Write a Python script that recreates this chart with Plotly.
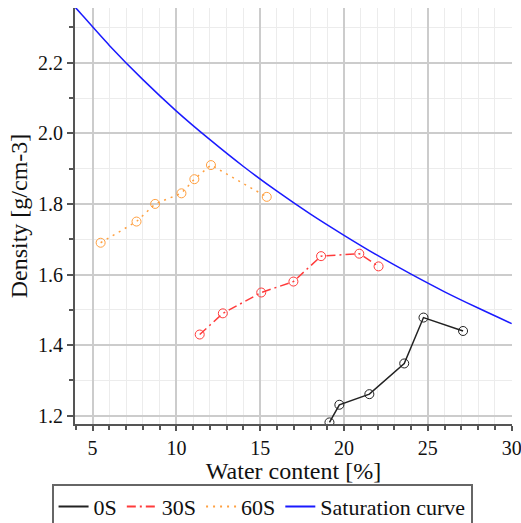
import plotly.graph_objects as go

# 0S
x_0s = [19.13, 19.72, 21.51, 23.59, 24.74, 27.10]
y_0s = [1.181, 1.231, 1.261, 1.348, 1.478, 1.440]
# 30S
x_30s = [11.39, 12.77, 15.06, 16.98, 18.63, 20.91, 22.06]
y_30s = [1.430, 1.490, 1.549, 1.580, 1.652, 1.659, 1.623]
# 60S
x_60s = [5.48, 7.62, 8.73, 10.30, 11.07, 12.06, 15.39]
y_60s = [1.690, 1.750, 1.800, 1.830, 1.870, 1.910, 1.820]
# Saturation curve
x_sat = [3.9, 4, 6, 8, 10, 12, 14, 16, 18, 20, 22, 24, 26, 28, 30]
y_sat = [2.360, 2.355, 2.249, 2.152, 2.063, 1.982, 1.906, 1.836, 1.771, 1.711, 1.654, 1.601, 1.551, 1.505, 1.461]

names = ["0S", "30S", "60S", "Saturation curve"]
colors = ["#222222", "#ff3b3b", "#ffa040", "#1a1aff"]
dashes = ["solid", "9px,4px,2px,4px", "2px,5px", "solid"]

FONT = "Liberation Serif"

fig = go.Figure()
series = [(x_0s, y_0s), (x_30s, y_30s), (x_60s, y_60s)]
for (xs, ys), nm, c, d in zip(series, names[:3], colors[:3], dashes[:3]):
    fig.add_trace(go.Scatter(x=xs, y=ys, name=nm, mode="lines+markers", showlegend=False,
                             line=dict(color=c, width=1.5, dash=d),
                             marker=dict(symbol="circle-open", size=9, color=c, line=dict(width=1))))
fig.add_trace(go.Scatter(x=x_sat, y=y_sat, name=names[3], mode="lines", showlegend=False,
                         line=dict(color=colors[3], width=1.5, shape="spline")))
# legend entries (lines only, as in the reference legend)
for nm, c, d in zip(names, colors, dashes):
    fig.add_trace(go.Scatter(x=[None], y=[None], name=nm, mode="lines",
                             line=dict(color=c, width=2, dash=d)))

fig.update_layout(
    template="none",
    width=521, height=523,
    margin=dict(l=75, r=9, t=8, b=99),
    paper_bgcolor="white", plot_bgcolor="white",
    font=dict(family=FONT, color="#111111", size=20),
    showlegend=True,
    legend=dict(orientation="h", xref="container", yref="container",
                x=0.503, xanchor="center", y=0.075, yanchor="top",
                bordercolor="#666666", borderwidth=2,
                font=dict(family=FONT, size=22),
                tracegroupgap=0),
    xaxis=dict(range=[3.95, 30.02], tickmode="array", tickvals=[5, 10, 15, 20, 25, 30],
               automargin=False, ticklabeloverflow="allow",
               showline=True, linecolor="#555555", linewidth=2,
               ticks="outside", ticklen=5, tickcolor="#555555", tickwidth=1.5,
               showgrid=True, gridcolor="#cccccc", gridwidth=1.5,
               minor=dict(dtick=1, showgrid=True, gridcolor="#ececec", gridwidth=1,
                          ticks="outside", ticklen=4, tickcolor="#555555"),
               zeroline=False,
               title=dict(text="Water content [%]", font=dict(family=FONT, size=24), standoff=6),
               tickfont=dict(family=FONT, size=20)),
    yaxis=dict(range=[1.1765, 2.355], tickmode="array", tickvals=[1.2, 1.4, 1.6, 1.8, 2.0, 2.2],
               ticktext=["1.2", "1.4", "1.6", "1.8", "2.0", "2.2"],
               automargin=False, ticklabeloverflow="allow",
               showline=True, linecolor="#555555", linewidth=2,
               ticks="outside", ticklen=6, tickcolor="#555555", tickwidth=1.5,
               showgrid=True, gridcolor="#cccccc", gridwidth=1.5,
               minor=dict(dtick=0.1, tick0=1.2, showgrid=True, gridcolor="#ececec", gridwidth=1,
                          ticks="outside", ticklen=4, tickcolor="#555555"),
               zeroline=False,
               title=dict(text="Density [g/cm-3]", font=dict(family=FONT, size=24), standoff=4),
               tickfont=dict(family=FONT, size=20)),
)

fig.write_html("out.html", config={"displayModeBar": False},
               post_script="document.body.style.margin='0';document.body.style.overflow='hidden';")
